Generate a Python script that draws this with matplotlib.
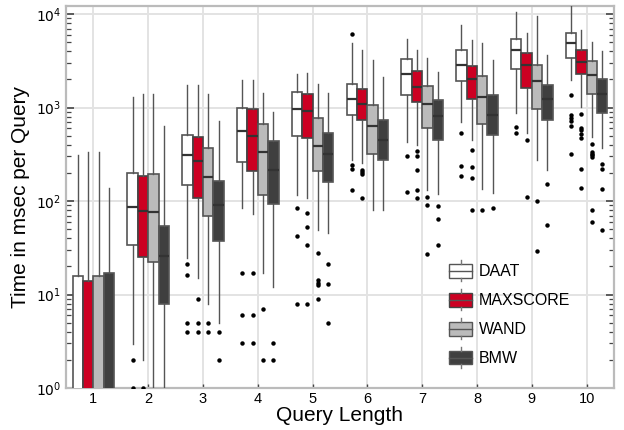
import matplotlib
matplotlib.use("Agg")
import matplotlib.pyplot as plt
from matplotlib.patches import Rectangle, Patch
from matplotlib.lines import Line2D
from matplotlib.legend_handler import HandlerBase
import numpy as np

plt.rcParams['font.family'] = ['Liberation Sans', 'DejaVu Sans']

query_lengths = [1, 2, 3, 4, 5, 6, 7, 8, 9, 10]
methods = ["DAAT", "MAXSCORE", "WAND", "BMW"]

# (whisker low, Q1, median, Q3, whisker high) per query length, msec
daat_stats = [
    (0.3, 0.5, 0.9, 15.9, 308),
    (2.98, 34, 87, 199, 1285),
    (24.6, 148, 313, 512, 1726),
    (84.9, 261, 561, 979, 1952),
    (116, 500, 964, 1477, 2281),
    (272, 824, 1222, 1798, 4935),
    (424, 1361, 2300, 3302, 5355),
    (694, 1920, 2825, 4157, 7690),
    (866, 2602, 4157, 5450, 10590),
    (1952, 3383, 4898, 6265, 13000),
]
maxscore_stats = [
    (0.3, 0.5, 0.9, 14.1, 331),
    (1.98, 25.4, 77.5, 187, 1393),
    (15.0, 109, 270, 480, 1755),
    (73.2, 209, 492, 956, 1952),
    (109, 468, 925, 1394, 2338),
    (255, 735, 1081, 1589, 4084),
    (397, 1136, 1657, 2478, 4084),
    (445, 1243, 2000, 2780, 5320),
    (538, 1617, 2872, 3828, 6212),
    (1012, 2281, 3090, 4157, 6796),
]
wand_stats = [
    (0.3, 0.5, 0.9, 15.9, 331),
    (0.5, 22.4, 76, 193, 1406),
    (7.98, 69.7, 181, 369, 1383),
    (17.0, 117, 331, 661, 1429),
    (49.4, 209, 387, 766, 1770),
    (80.8, 318, 629, 1072, 3250),
    (132, 608, 1090, 1713, 3412),
    (134, 671, 1295, 2172, 4935),
    (275, 956, 1920, 2872, 9440),
    (484, 1406, 2228, 3170, 5012),
]
bmw_stats = [
    (0.3, 0.5, 0.9, 17.0, 139),
    (0.5, 7.9, 25.8, 54.5, 630),
    (4.96, 37.6, 90.6, 162, 711),
    (12.0, 92.9, 213, 435, 902),
    (45.8, 160, 318, 538, 1442),
    (79.5, 275, 449, 735, 2137),
    (118, 453, 805, 1194, 2377),
    (121, 504, 831, 1372, 3193),
    (213, 729, 1222, 1755, 3676),
    (369, 873, 1394, 2000, 4018),
]

# outliers per query length, msec
daat_outliers = [
    [], [1.98, 1.0], [21, 16, 4.96, 3.97], [16.8, 5.98, 3.03],
    [83.5, 41.9, 7.9], [6112, 243, 220, 130], [303, 125],
    [534, 239, 185], [619, 534], [1349, 838, 779, 723, 634, 316],
]
maxscore_outliers = [
    [], [1.0], [8.9, 4.96, 3.97], [16.8, 5.98, 3.03],
    [73.8, 52.3, 33.6, 7.9], [213, 203, 194, 109], [340, 303, 213, 132, 109],
    [348, 231, 176, 79.5], [445, 110], [852, 608, 570, 525, 472, 218, 138],
]
wand_outliers = [
    [], [], [4.96, 3.97], [7.0, 1.98],
    [27.6, 14.2, 13.3, 12.7, 8.9], [], [110, 89.9, 27.3],
    [80.8], [99.2, 29.2], [410, 334, 321, 308, 296, 80.1, 59.6],
]
bmw_outliers = [
    [], [], [3.97, 1.98], [3.03, 1.98],
    [21, 12.8, 4.92], [], [87.7, 64.7, 33.6],
    [83.5], [152, 54.9], [251, 220, 134, 48.5],
]

all_stats = [daat_stats, maxscore_stats, wand_stats, bmw_stats]
all_outliers = [daat_outliers, maxscore_outliers, wand_outliers, bmw_outliers]
face_colors = ["#FFFFFF", "#CC0022", "#BBBBBB", "#3F3F3F"]
edge_colors = ["#555555", "#444444", "#555555", "#555555"]
offsets = [-0.285, -0.095, 0.095, 0.285]
box_width = 0.19

fig = plt.figure(figsize=(6.24, 4.30), dpi=100)
ax = fig.add_axes([66/624, 1-388/430, (614-66)/624, (388-6)/430])

for m in range(4):
    bstats = []
    for i, q in enumerate(query_lengths):
        lo, q1, med, q3, hi = all_stats[m][i]
        bstats.append(dict(whislo=lo, q1=q1, med=med, q3=q3, whishi=hi,
                           fliers=all_outliers[m][i]))
    pos = [q + offsets[m] for q in query_lengths]
    ax.bxp(bstats, positions=pos, widths=box_width, patch_artist=True,
           showcaps=False, manage_ticks=False,
           boxprops=dict(facecolor=face_colors[m], edgecolor=edge_colors[m], linewidth=1.2),
           medianprops=dict(color="#333333", linewidth=1.6),
           whiskerprops=dict(color="#555555", linewidth=1.0),
           flierprops=dict(marker='o', markerfacecolor='black', markeredgecolor='none',
                           markersize=3.2, linestyle='none'),
           zorder=3)

ax.set_yscale('log')
ax.set_ylim(1, 10**4.086)
ax.set_xlim(0.5, 10.5)
ax.set_xticks(query_lengths)
ax.set_xticklabels([str(q) for q in query_lengths])
ax.set_yticks([1, 10, 100, 1000, 10000])
ax.set_yticklabels([r'$10^{0}$', r'$10^{1}$', r'$10^{2}$', r'$10^{3}$', r'$10^{4}$'])

ax.grid(True, which='major', color='#E3E3E3', linewidth=1.4, zorder=0)
ax.set_axisbelow(True)
for s in ax.spines.values():
    s.set_color('#BBBBBB')
    s.set_linewidth(1.6)

ax.tick_params(axis='y', which='major', direction='in', length=6, width=1.2,
               color='#444444', left=True, right=True, labelsize=10)
ax.tick_params(axis='y', which='minor', direction='in', length=3.5, width=0.9,
               color='#444444', left=True, right=True)
ax.tick_params(axis='x', which='major', direction='in', length=3, width=1.0,
               color='#444444', labelsize=10.5, pad=3)

ax.set_xlabel("Query Length", fontsize=15, labelpad=0)
ax.set_ylabel("Time in msec per Query", fontsize=15, labelpad=4)


class BoxHandler(HandlerBase):
    def create_artists(self, legend, orig_handle, xdescent, ydescent, width,
                       height, fontsize, trans):
        fc = orig_handle.get_facecolor()
        ec = orig_handle.get_edgecolor()
        x0, y0 = -xdescent, -ydescent
        rect = Rectangle((x0, y0), width, height, facecolor=fc, edgecolor=ec,
                         linewidth=1.0, transform=trans)
        xm = x0 + width / 2
        med = Line2D([x0, x0 + width], [y0 + height / 2] * 2, color='#555555',
                     linewidth=1.0, transform=trans)
        stub = 0.27 * height
        top = Line2D([xm, xm], [y0 + height, y0 + height + stub], color='#777777',
                     linewidth=1.0, transform=trans)
        bot = Line2D([xm, xm], [y0 - stub, y0], color='#777777',
                     linewidth=1.0, transform=trans)
        return [rect, med, top, bot]


handles = [Patch(facecolor=face_colors[m], edgecolor=edge_colors[m]) for m in range(4)]
leg = ax.legend(handles, methods, handler_map={Patch: BoxHandler()},
                loc='upper left', bbox_to_anchor=(0.699, 0.325), frameon=False,
                fontsize=11.5, handlelength=1.45, handleheight=0.95,
                labelspacing=0.85, handletextpad=0.4, borderpad=0, borderaxespad=0)

fig.savefig("out.png", dpi=100)
